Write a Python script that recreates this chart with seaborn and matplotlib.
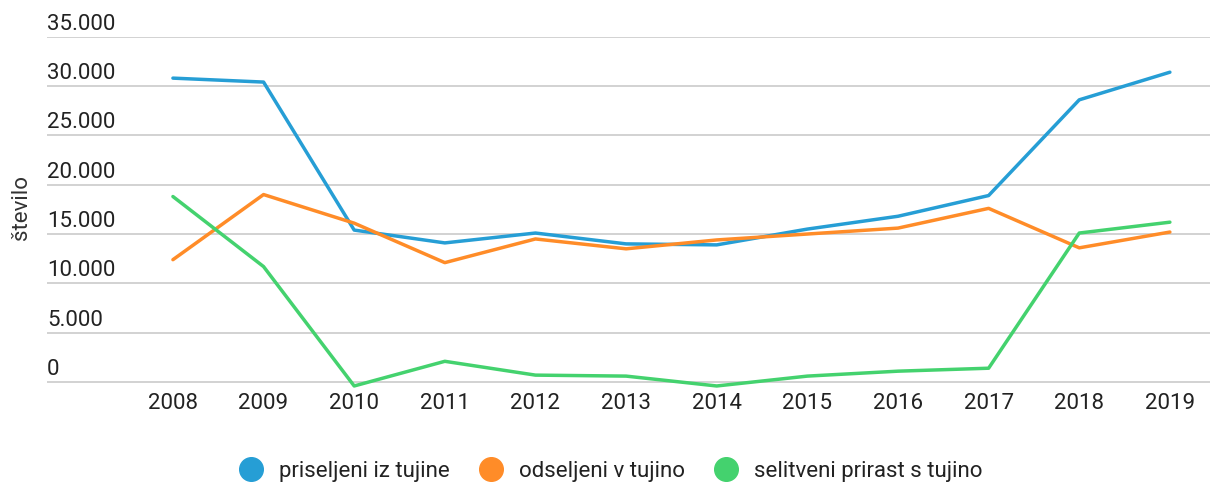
import matplotlib
matplotlib.use("Agg")
import matplotlib.pyplot as plt
from matplotlib.lines import Line2D
import seaborn as sns
import pandas as pd

years = [2008, 2009, 2010, 2011, 2012, 2013, 2014, 2015, 2016, 2017, 2018, 2019]
priseljeni = [30800, 30400, 15400, 14100, 15100, 14000, 13900, 15500, 16800, 18900, 28600, 31400]
odseljeni = [12400, 19000, 16100, 12100, 14500, 13500, 14400, 15000, 15600, 17600, 13600, 15200]
prirast = [18800, 11700, -400, 2100, 700, 600, -400, 600, 1100, 1400, 15100, 16200]
series_names = ["priseljeni iz tujine", "odseljeni v tujino", "selitveni prirast s tujino"]
y_ticks = [0, 5000, 10000, 15000, 20000, 25000, 30000, 35000]
y_tick_labels = ["0", "5.000", "10.000", "15.000", "20.000", "25.000", "30.000", "35.000"]
colors = ["#269ed5", "#ff8c28", "#44d26e"]

sns.set_theme(style="white")
plt.rcParams["font.family"] = ["Roboto", "DejaVu Sans"]

df = pd.DataFrame({
    "leto": years * 3,
    "vrednost": priseljeni + odseljeni + prirast,
    "serija": [series_names[0]] * 12 + [series_names[1]] * 12 + [series_names[2]] * 12,
})

FS = 16
fig = plt.figure(figsize=(12.1, 4.84), dpi=100)
ax = fig.add_axes([0.0388, 0.1903, 0.961, 0.7339])

for y in y_ticks:
    ax.axhline(y, color="#d2d2d2", lw=1.4, zorder=0)

sns.lineplot(data=df, x="leto", y="vrednost", hue="serija", palette=colors,
             hue_order=series_names, lw=2.5, ax=ax, legend=False, zorder=3)

ax.set_xlim(2008 - 1.39, 2019 + 0.44)
ax.set_ylim(-1000, 35000)
for s in ax.spines.values():
    s.set_visible(False)
ax.set_yticks([])
ax.set_xticks(years)
ax.set_xticklabels([str(y) for y in years], fontsize=FS, color="#222222")
ax.tick_params(axis="x", length=0, pad=1)
ax.set_xlabel("")
ax.set_ylabel("")

for v, lab in zip(y_ticks, y_tick_labels):
    ax.annotate(lab, xy=(0, v), xycoords=("axes fraction", "data"),
                xytext=(0, 7), textcoords="offset pixels",
                ha="left", va="baseline", fontsize=FS, color="#222222")

fig.text(22 / 1210, 1 - 208 / 484, "število", rotation=90, ha="center", va="center",
         fontsize=FS, color="#333333")

handles = [Line2D([], [], marker="o", linestyle="none", markersize=17,
                  markerfacecolor=c, markeredgecolor=c) for c in colors]
fig.legend(handles, series_names, loc="center", bbox_to_anchor=(0.505, 1 - 471 / 484),
           ncol=3, frameon=False, fontsize=FS, handlelength=1.0, handletextpad=0.75,
           columnspacing=1.35, labelcolor="#222222")

fig.savefig("out.png", dpi=100)
